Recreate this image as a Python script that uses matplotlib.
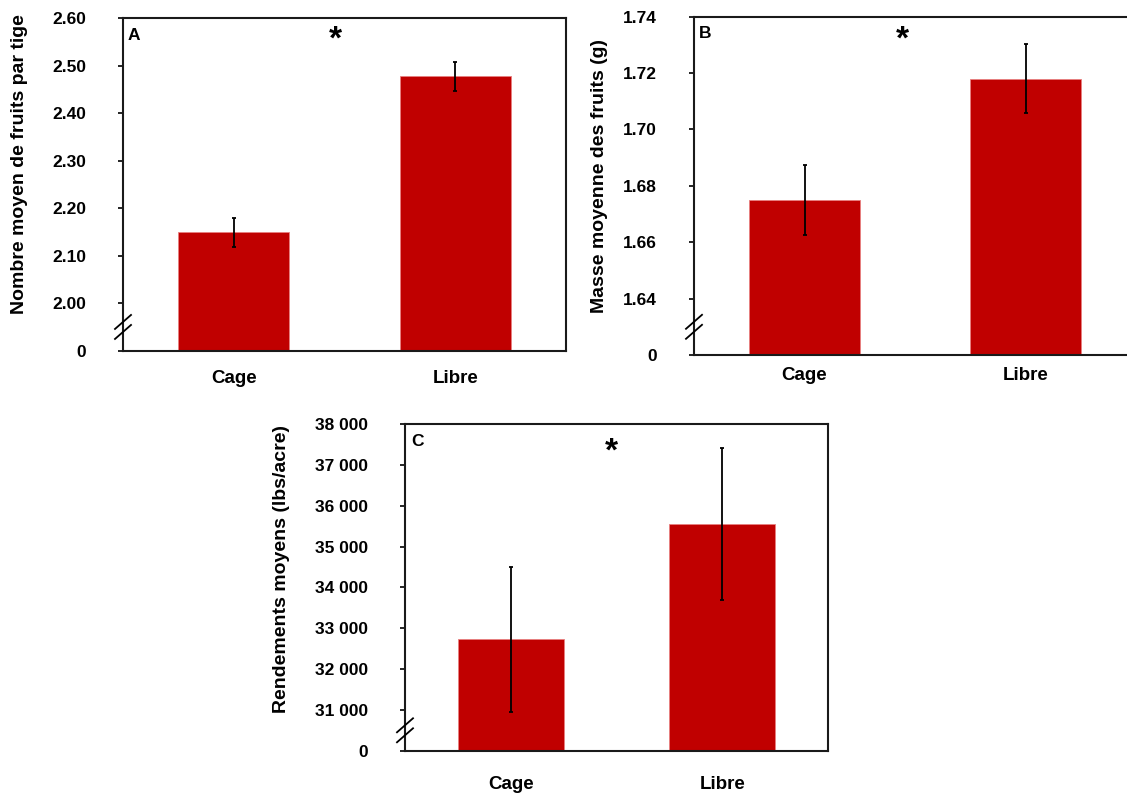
import matplotlib
matplotlib.use("Agg")
from matplotlib import pyplot as plt

plt.rcParams['font.family'] = ['Liberation Sans', 'DejaVu Sans']
plt.rcParams['font.weight'] = 'bold'
plt.rcParams['axes.labelweight'] = 'bold'

W, H = 1127, 796

categories = ['Cage', 'Libre']

# panel A: fruits per stem
fruits_mean = [2.149, 2.478]
fruits_err = [0.030, 0.031]
fruits_ticks = [1.90, 2.00, 2.10, 2.20, 2.30, 2.40, 2.50, 2.60]
fruits_labels = ['0', '2.00', '2.10', '2.20', '2.30', '2.40', '2.50', '2.60']

# panel B: fruit mass
mass_mean = [1.675, 1.718]
mass_err = [0.0125, 0.0122]
mass_ticks = [1.62, 1.64, 1.66, 1.68, 1.70, 1.72, 1.74]
mass_labels = ['0', '1.64', '1.66', '1.68', '1.70', '1.72', '1.74']

# panel C: yield
yield_mean = [32727, 35551]
yield_err = [1768, 1850]
yield_ticks = [30000, 31000, 32000, 33000, 34000, 35000, 36000, 37000, 38000]
yield_labels = ['0', '31 000', '32 000', '33 000', '34 000', '35 000',
                '36 000', '37 000', '38 000']

BAR = '#c00000'


def make_ax(fig, left, right, top, bottom):
    return fig.add_axes([left / W, 1 - bottom / H, (right - left) / W, (bottom - top) / H])


def panel(ax, px, means, errs, ticks, labels, ylabel, ylab_xy, letter, letter_off,
          star_xy, xpad):
    x = [0, 1]
    ax.bar(x, means, width=0.5, color=BAR, edgecolor='#e88080', linewidth=0.6,
           bottom=0, zorder=2)
    ax.errorbar(x, means, yerr=errs, fmt='none', ecolor='black', elinewidth=1.3,
                capsize=1.5, capthick=1.3, zorder=3)
    ax.set_ylim(ticks[0], ticks[-1])
    ax.set_xlim(-0.5, 1.5)
    ax.set_yticks(ticks)
    ax.set_yticklabels(labels)
    ax.set_xticks(x)
    ax.set_xticklabels(categories)
    ax.tick_params(axis='x', length=0, pad=xpad, labelsize=13.5)
    ax.tick_params(axis='y', direction='out', length=3.6, width=1.2, labelsize=12.5, pad=23)
    for s in ax.spines.values():
        s.set_linewidth(1.5)
        s.set_color('#1a1a1a')
    ax.set_ylabel(ylabel, fontsize=14, va='center')
    ax.yaxis.set_label_coords(*ylab_xy)
    # break marks on the y axis, between 0 and the first real tick
    wpx, hpx = px
    step = ticks[1] - ticks[0]
    ymid = ticks[0] + step / 2
    per_px = step * (len(ticks) - 1) / hpx
    dx = 8 / wpx
    dy = 7 * per_px
    gap = 5 * per_px
    tr = ax.get_yaxis_transform()
    for off in (-gap, gap):
        ax.plot([-dx, dx], [ymid + off - dy, ymid + off + dy], color='black',
                lw=1.3, transform=tr, clip_on=False, zorder=5)
    ax.text(letter_off[0] / wpx, 1 - letter_off[1] / hpx, letter, transform=ax.transAxes,
            fontsize=12.5, ha='left', va='center')
    ax.text(star_xy[0], star_xy[1], '*', transform=ax.transAxes, fontsize=24,
            ha='center', va='center')


fig = plt.figure(figsize=(W / 100, H / 100), dpi=100)

axA = make_ax(fig, 123, 566, 18.3, 350.7)
panel(axA, (443, 332.4), fruits_mean, fruits_err, fruits_ticks, fruits_labels,
      'Nombre moyen de fruits par tige', (-0.233, 0.562), 'A', (5, 16.7),
      (0.479, 0.934), 14)

axB = make_ax(fig, 694, 1136, 16.7, 355)
panel(axB, (442, 338.3), mass_mean, mass_err, mass_ticks, mass_labels,
      'Masse moyenne des fruits (g)', (-0.213, 0.529), 'B', (4.5, 16.3),
      (0.471, 0.930), 8.4)

axC = make_ax(fig, 405, 828, 424, 750.7)
panel(axC, (423, 326.7), yield_mean, yield_err, yield_ticks, yield_labels,
      'Rendements moyens (lbs/acre)', (-0.292, 0.556), 'C', (6.5, 18),
      (0.488, 0.913), 18.5)

fig.savefig('out.png', dpi=100)
